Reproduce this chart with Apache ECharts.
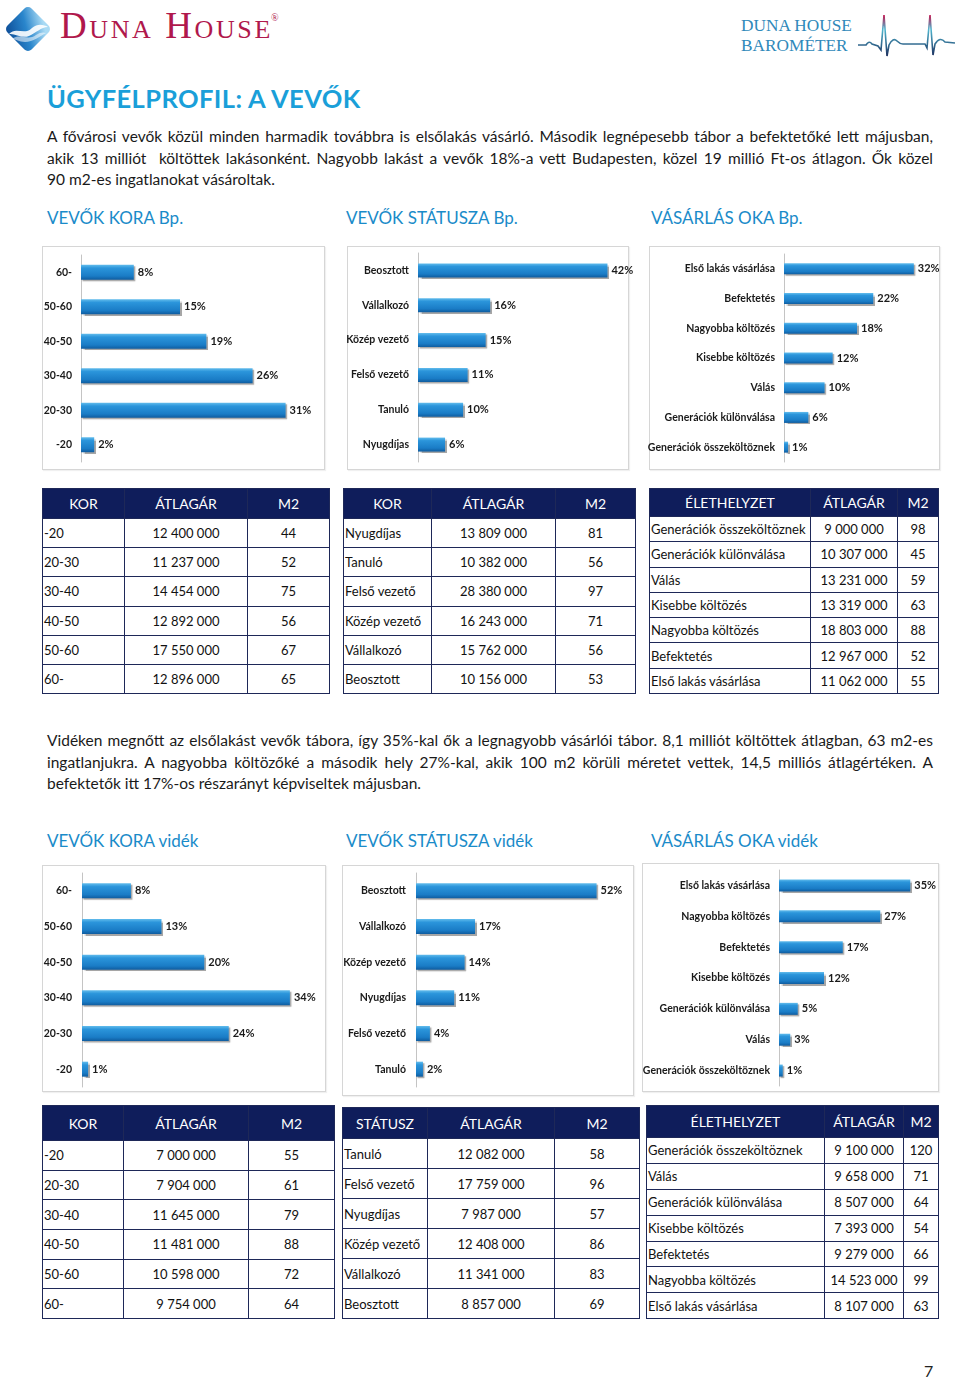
<!DOCTYPE html>
<html><head><meta charset="utf-8">
<script src="https://cdn.jsdelivr.net/npm/echarts@6/dist/echarts.min.js"></script>
<style>
html,body{margin:0;padding:0;background:#fff;}
#page{position:relative;width:960px;height:1380px;overflow:hidden;font-family:Lato,"Open Sans",sans-serif;color:#1a1a1a;}
.abs{position:absolute;}
.title{left:47px;top:83px;font-size:25.5px;font-weight:700;color:#1a9fd9;white-space:nowrap;letter-spacing:0.4px;}
.para{left:47px;width:886px;font-size:15.5px;color:#1a1a1a;}
.para div{height:21.5px;line-height:21.5px;white-space:nowrap;}
.para div.j{text-align:justify;text-align-last:justify;white-space:normal;}
.sec{font-size:17px;color:#1a8bc9;white-space:nowrap;}
.box{border:1px solid #d6d6d6;box-shadow:1px 1px 1px rgba(0,0,0,0.06);background:#fff;}
table.t{position:absolute;border-collapse:collapse;table-layout:fixed;font-family:Lato,sans-serif;}
table.t td,table.t th{border:1.5px solid #1e2858;padding:0;white-space:nowrap;overflow:hidden;font-size:13px;color:#111;text-align:center;}
table.t th{background:#0f1d5b;color:#fff;font-weight:400;font-size:14px;}
table.t td.first{text-align:left;padding-left:1px;}
#chart{position:absolute;left:0;top:0;width:960px;height:1380px;z-index:5;pointer-events:none;}
</style></head>
<body>
<div id="page">
  <svg class="abs" style="left:0;top:0" width="960" height="70">
    <defs>
      <linearGradient id="dg" x1="0" y1="1" x2="0.6" y2="0">
        <stop offset="0" stop-color="#0b4a95"/><stop offset="0.55" stop-color="#2a86cc"/><stop offset="1" stop-color="#a8daf4"/>
      </linearGradient>
      <linearGradient id="ecg" x1="0" y1="0" x2="0" y2="1">
        <stop offset="0" stop-color="#c2154e"/><stop offset="0.35" stop-color="#4fb6cf"/><stop offset="1" stop-color="#1c2f5e"/>
      </linearGradient>
    </defs>
    <rect x="11" y="12" width="34" height="34" rx="5" fill="url(#dg)" transform="rotate(45 28 29)"/>
    <path d="M9,34 C16,26 24,36 32,28 C38,23 44,25 48,27 C41,27 36,33 29,36 C22,39 15,33 9,34 Z" fill="#ffffff" opacity="0.9"/>
    <path d="M12,39 C20,33 28,41 36,35 C40,32 44,32 46,33 C40,36 33,42 25,42 C19,42 16,39 12,39 Z" fill="#ffffff" opacity="0.55"/>
    <text x="60" y="38" font-family="'Liberation Serif','DejaVu Serif',serif" font-size="37" fill="#b0184c" letter-spacing="2.6" style="font-variant:small-caps">Duna House</text>
    <text x="271" y="21" font-family="'Liberation Serif',serif" font-size="10" fill="#b0184c">®</text>
    <text x="741" y="31" font-family="'Liberation Serif','DejaVu Serif',serif" font-size="17.3" fill="#2f89ba">DUNA HOUSE</text>
    <text x="741" y="51" font-family="'Liberation Serif','DejaVu Serif',serif" font-size="17.3" fill="#2f89ba">BAROMÉTER</text>
    <path d="M858,45 L866,45 Q869,40 872,44 L878,46 L881,50 L884,15 L887,56 L889,45 Q893,37 897,41 Q900,44 903,44 L925,44 L927,48 L930,15 L933,55 L935,44 Q940,36 945,42 L955,43" fill="none" stroke="url(#ecg)" stroke-width="1.6"/>
  </svg>

  <div class="abs title">ÜGYFÉLPROFIL: A VEVŐK</div>

  <div class="abs para" style="top:126px">
    <div class="j">A fővárosi vevők közül minden harmadik továbbra is elsőlakás vásárló. Második legnépesebb tábor a befektetőké lett májusban,</div>
    <div class="j">akik 13 milliót&nbsp; költöttek lakásonként. Nagyobb lakást a vevők 18%-a vett Budapesten, közel 19 millió Ft-os átlagon. Ők közel</div>
    <div>90 m2-es ingatlanokat vásároltak.</div>
  </div>

  <div class="abs sec" style="left:47px;top:207px">VEVŐK KORA Bp.</div>
  <div class="abs sec" style="left:346px;top:207px">VEVŐK STÁTUSZA Bp.</div>
  <div class="abs sec" style="left:651px;top:207px">VÁSÁRLÁS OKA Bp.</div>

  <div class="abs box" style="left:42px;top:246px;width:281px;height:222px"></div>
  <div class="abs box" style="left:347px;top:246px;width:280px;height:222px"></div>
  <div class="abs box" style="left:649px;top:246px;width:289px;height:222px"></div>

  <div class="abs para" style="top:730px">
    <div class="j">Vidéken megnőtt az elsőlakást vevők tábora, így 35%-kal ők a legnagyobb vásárlói tábor. 8,1 milliót költöttek átlagban, 63 m2-es</div>
    <div class="j">ingatlanjukra. A nagyobba költözőké a második hely 27%-kal, akik 100 m2 körüli méretet vettek, 14,5 milliós átlagértéken. A</div>
    <div>befektetők itt 17%-os részarányt képviseltek májusban.</div>
  </div>

  <div class="abs sec" style="left:47px;top:830px">VEVŐK KORA vidék</div>
  <div class="abs sec" style="left:346px;top:830px">VEVŐK STÁTUSZA vidék</div>
  <div class="abs sec" style="left:651px;top:830px">VÁSÁRLÁS OKA vidék</div>

  <div class="abs box" style="left:42px;top:865px;width:282px;height:225px"></div>
  <div class="abs box" style="left:342px;top:865px;width:290px;height:229px"></div>
  <div class="abs box" style="left:642px;top:863px;width:295px;height:227px"></div>

  <div class="abs" style="left:924px;top:1361px;font-size:16px;color:#222">7</div>

  <div id="tables"></div>
  <div id="chart"></div>
</div>

<script>
// ---------- bar chart data ----------
const bpAgeCats = ['60-','50-60','40-50','30-40','20-30','-20'];
const bpAgeVals = [8,15,19,26,31,2];
const bpStatusCats = ['Beosztott','Vállalkozó','Közép vezető','Felső vezető','Tanuló','Nyugdíjas'];
const bpStatusVals = [42,16,15,11,10,6];
const bpReasonCats = ['Első lakás vásárlása','Befektetés','Nagyobba költözés','Kisebbe költözés','Válás','Generációk különválása','Generációk összeköltöznek'];
const bpReasonVals = [32,22,18,12,10,6,1];
const vdAgeCats = ['60-','50-60','40-50','30-40','20-30','-20'];
const vdAgeVals = [8,13,20,34,24,1];
const vdStatusCats = ['Beosztott','Vállalkozó','Közép vezető','Nyugdíjas','Felső vezető','Tanuló'];
const vdStatusVals = [52,17,14,11,4,2];
const vdReasonCats = ['Első lakás vásárlása','Nagyobba költözés','Befektetés','Kisebbe költözés','Generációk különválása','Válás','Generációk összeköltöznek'];
const vdReasonVals = [35,27,17,12,5,3,1];

// ---------- table data ----------
const hdrAge = ['KOR','ÁTLAGÁR','M2'];
const hdrStatusBp = ['KOR','ÁTLAGÁR','M2'];
const hdrStatusVd = ['STÁTUSZ','ÁTLAGÁR','M2'];
const hdrLife = ['ÉLETHELYZET','ÁTLAGÁR','M2'];

const bpAgeRows = ['-20','20-30','30-40','40-50','50-60','60-'];
const bpAgePrice = ['12 400 000','11 237 000','14 454 000','12 892 000','17 550 000','12 896 000'];
const bpAgeM2 = [44,52,75,56,67,65];
const bpStatRows = ['Nyugdíjas','Tanuló','Felső vezető','Közép vezető','Vállalkozó','Beosztott'];
const bpStatPrice = ['13 809 000','10 382 000','28 380 000','16 243 000','15 762 000','10 156 000'];
const bpStatM2 = [81,56,97,71,56,53];
const bpLifeRows = ['Generációk összeköltöznek','Generációk különválása','Válás','Kisebbe költözés','Nagyobba költözés','Befektetés','Első lakás vásárlása'];
const bpLifePrice = ['9 000 000','10 307 000','13 231 000','13 319 000','18 803 000','12 967 000','11 062 000'];
const bpLifeM2 = [98,45,59,63,88,52,55];

const vdAgeRows = ['-20','20-30','30-40','40-50','50-60','60-'];
const vdAgePrice = ['7 000 000','7 904 000','11 645 000','11 481 000','10 598 000','9 754 000'];
const vdAgeM2 = [55,61,79,88,72,64];
const vdStatRows = ['Tanuló','Felső vezető','Nyugdíjas','Közép vezető','Vállalkozó','Beosztott'];
const vdStatPrice = ['12 082 000','17 759 000','7 987 000','12 408 000','11 341 000','8 857 000'];
const vdStatM2 = [58,96,57,86,83,69];
const vdLifeRows = ['Generációk összeköltöznek','Válás','Generációk különválása','Kisebbe költözés','Befektetés','Nagyobba költözés','Első lakás vásárlása'];
const vdLifePrice = ['9 100 000','9 658 000','8 507 000','7 393 000','9 279 000','14 523 000','8 107 000'];
const vdLifeM2 = [120,71,64,54,66,99,63];

// ---------- tables ----------
function makeTable(x, y, cols, headH, rowH, headers, c1, c2, c3) {
  const t = document.createElement('table');
  t.className = 't';
  t.style.left = x + 'px'; t.style.top = y + 'px';
  t.style.width = cols.reduce((a,b)=>a+b,0) + 'px';
  let html = '<colgroup>' + cols.map(w=>'<col style="width:'+w+'px">').join('') + '</colgroup>';
  html += '<tr style="height:'+headH+'px">' + headers.map(h=>'<th>'+h+'</th>').join('') + '</tr>';
  for (let i=0;i<c1.length;i++) {
    html += '<tr style="height:'+rowH+'px"><td class="first">'+c1[i]+'</td><td>'+c2[i]+'</td><td>'+c3[i]+'</td></tr>';
  }
  t.innerHTML = html;
  document.getElementById('tables').appendChild(t);
}
makeTable(42, 488, [82,123,82], 30, 29.2, hdrAge, bpAgeRows, bpAgePrice, bpAgeM2);
makeTable(343, 488, [88,124,80], 30, 29.2, hdrStatusBp, bpStatRows, bpStatPrice, bpStatM2);
makeTable(649, 488, [161,87,41], 28, 25.3, hdrLife, bpLifeRows, bpLifePrice, bpLifeM2);
makeTable(42, 1105, [81,125,86], 35, 29.7, hdrAge, vdAgeRows, vdAgePrice, vdAgeM2);
makeTable(342, 1107, [85,127,85], 31, 30, hdrStatusVd, vdStatRows, vdStatPrice, vdStatM2);
makeTable(646, 1105, [178,79,35], 32, 25.9, hdrLife, vdLifeRows, vdLifePrice, vdLifeM2);

// ---------- bar charts ----------
const chart = echarts.init(document.getElementById('chart'), null, {renderer:'canvas'});
const LBL_FONT = "'Liberation Sans Narrow', Lato, sans-serif";
const barColor = new echarts.graphic.LinearGradient(0,0,0,1,[
  {offset:0,color:'#62bcec'},{offset:0.22,color:'#2b95db'},{offset:0.75,color:'#1a7cc6'},{offset:1,color:'#0f5c9f'}
]);
const panels = [
  {cats:bpAgeCats, vals:bpAgeVals, left:81, top:255, width:231, height:207, max:35, bw:15, margin:9},
  {cats:bpStatusCats, vals:bpStatusVals, left:418, top:253, width:203, height:209, max:45, bw:14, margin:9},
  {cats:bpReasonCats, vals:bpReasonVals, left:784, top:254, width:142, height:208, max:35, bw:11, margin:9},
  {cats:vdAgeCats, vals:vdAgeVals, left:82, top:873, width:214, height:214, max:35, bw:15, margin:10},
  {cats:vdStatusCats, vals:vdStatusVals, left:416, top:873, width:191, height:214, max:55, bw:15, margin:10},
  {cats:vdReasonCats, vals:vdReasonVals, left:779, top:870, width:150, height:216, max:40, bw:12, margin:9}
];
const option = {
  animation:false,
  grid: panels.map(p=>({left:p.left, top:p.top, width:p.width, height:p.height, containLabel:false})),
  xAxis: panels.map((p,i)=>({type:'value', gridIndex:i, min:0, max:p.max, show:false})),
  yAxis: panels.map((p,i)=>({
    type:'category', gridIndex:i, data:p.cats, inverse:true,
    axisLine:{show:true, lineStyle:{color:'#c4c4c4', width:1}},
    axisTick:{show:false},
    axisLabel:{margin:p.margin, color:'#1a1a1a', fontWeight:'bold', fontSize:10.5, fontFamily:LBL_FONT}
  })),
  series: panels.map((p,i)=>({
    type:'bar', xAxisIndex:i, yAxisIndex:i, data:p.vals, barWidth:p.bw,
    itemStyle:{color:barColor, shadowColor:'rgba(0,0,0,0.35)', shadowOffsetX:1.5, shadowOffsetY:1.5, shadowBlur:1},
    label:{show:true, position:'right', distance:4, formatter:'{c}%', color:'#1a1a1a', fontWeight:'bold', fontSize:11, fontFamily:LBL_FONT}
  }))
};
chart.setOption(option);
</script>
</body></html>
